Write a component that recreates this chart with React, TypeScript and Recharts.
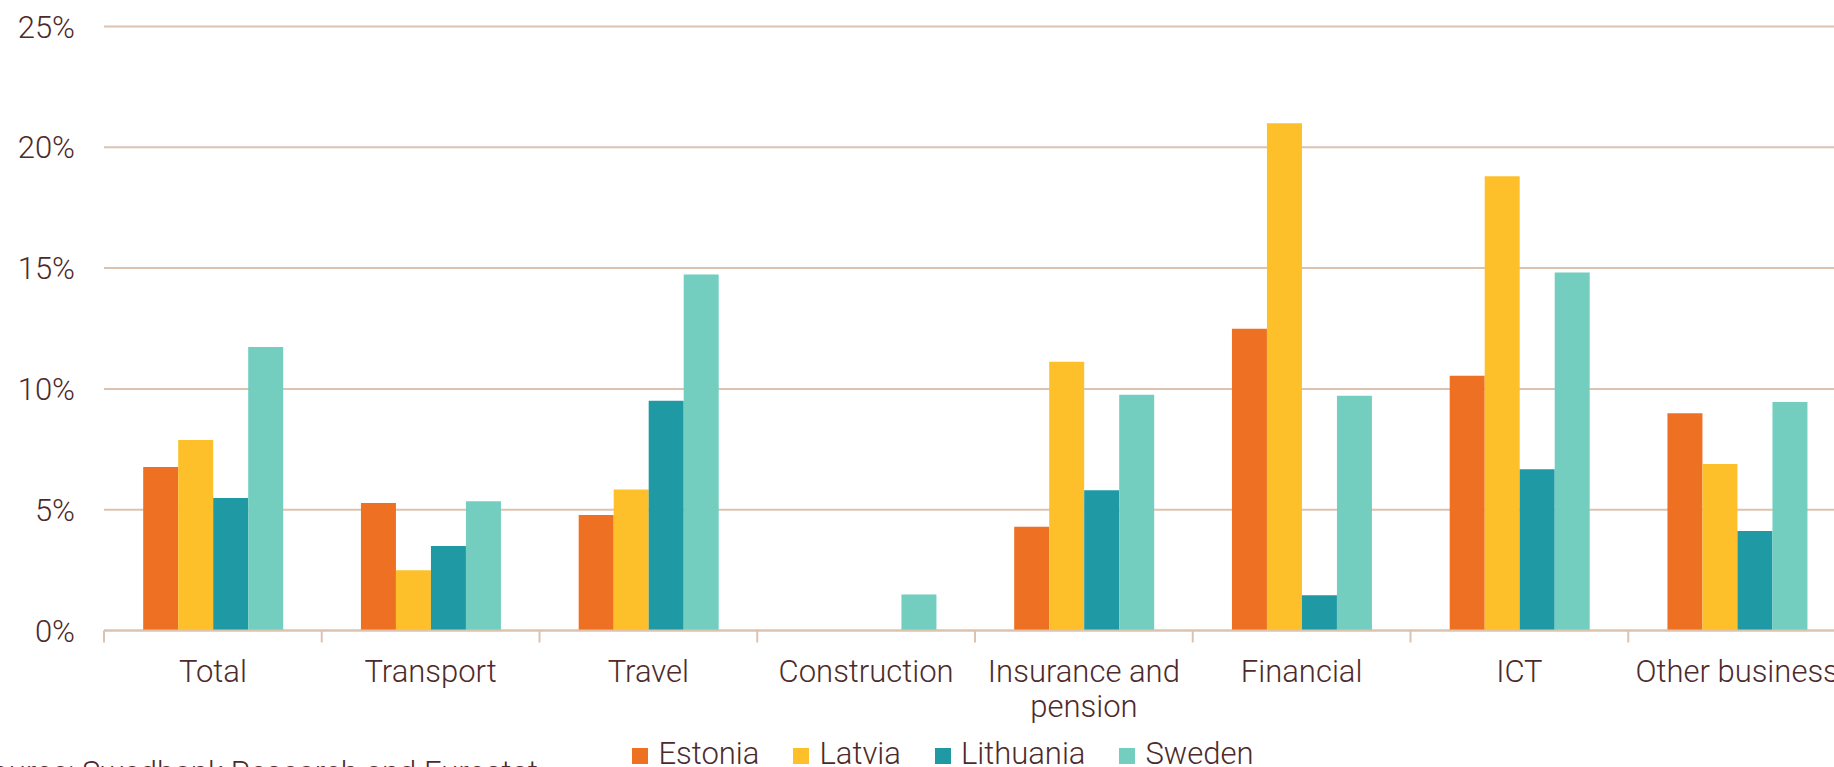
import React from 'react';
import { BarChart, Bar, XAxis, YAxis, CartesianGrid, Legend } from 'recharts';

// Share of services exports by category, per country (%)
const categories = [
  'Total',
  'Transport',
  'Travel',
  'Construction',
  'Insurance and\npension',
  'Financial',
  'ICT',
  'Other business',
];
const estonia = [6.77, 5.28, 4.78, null, 4.29, 12.49, 10.54, 8.99];
const latvia = [7.88, 2.49, 5.84, null, 11.12, 21.0, 18.8, 6.89];
const lithuania = [5.48, 3.5, 9.51, null, 5.8, 1.46, 6.67, 4.12];
const sweden = [11.73, 5.35, 14.73, 1.49, 9.76, 9.72, 14.82, 9.46];
const yTicks = [0, 5, 10, 15, 20, 25];
const seriesNames = ['Estonia', 'Latvia', 'Lithuania', 'Sweden'];
const seriesColors = ['#ee7023', '#fdc02b', '#1f9aa5', '#73cec0'];

const seriesValues = [estonia, latvia, lithuania, sweden];
const data = categories.map((name, i) => {
  const row: Record<string, any> = { name };
  seriesNames.forEach((s, k) => {
    row[s] = seriesValues[k][i];
  });
  return row;
});

const FONT = 'Roboto, "Open Sans", sans-serif';
const TEXT = '#4e2a2b';
const GRID = '#dcc3b0';

const CategoryTick = (props: any) => {
  const { x, y, payload } = props;
  const half = payload && payload.offset ? payload.offset : 108.85;
  const lines = String(payload.value).split('\n');
  return (
    <g>
      <line x1={x - half} x2={x - half} y1={y} y2={y + 12} stroke={GRID} strokeWidth={2} />
      <text
        x={x}
        y={y + 51}
        textAnchor="middle"
        fill={TEXT}
        fontSize={31}
        fontFamily={FONT}
        fontWeight={300}
      >
        {lines.map((l, i) => (
          <tspan key={i} x={x} dy={i === 0 ? 0 : 35}>
            {l}
          </tspan>
        ))}
      </text>
    </g>
  );
};

const LegendRow = (props: any) => {
  const items = props.payload || [];
  return (
    <div
      style={{
        display: 'flex',
        justifyContent: 'center',
        gap: 34,
        fontFamily: FONT,
        fontSize: 31,
        fontWeight: 300,
        color: TEXT,
        lineHeight: '36px',
      }}
    >
      {items.map((it: any) => (
        <div key={it.value} style={{ display: 'flex', alignItems: 'baseline' }}>
          <span
            style={{
              display: 'inline-block',
              width: 16,
              height: 16,
              background: it.color,
              marginRight: 10,
            }}
          />
          {it.value}
        </div>
      ))}
    </div>
  );
};

export default function App() {
  return (
    <div
      style={{
        position: 'absolute',
        left: 0,
        top: 0,
        width: 1834,
        height: 767,
        overflow: 'hidden',
        background: '#ffffff',
      }}
    >
      <BarChart
        width={1846}
        height={767}
        data={data}
        margin={{ top: 26.5, right: 0, bottom: 0, left: 0 }}
        barCategoryGap="18%"
        barGap={0}
      >
        <CartesianGrid vertical={false} stroke={GRID} strokeWidth={2} />
        <XAxis
          dataKey="name"
          height={136.5}
          interval={0}
          tickLine={false}
          tickSize={0}
          tickMargin={0}
          axisLine={{ stroke: GRID, strokeWidth: 2 }}
          tick={<CategoryTick />}
        />
        <YAxis
          width={104}
          domain={[0, 25]}
          ticks={yTicks}
          tickFormatter={(v: number) => `${v}%`}
          axisLine={false}
          tickLine={false}
          tickSize={0}
          tickMargin={29}
          tick={{ fill: TEXT, fontSize: 31, fontFamily: FONT, fontWeight: 300 }}
        />
        <Legend
          layout="vertical"
          align="center"
          verticalAlign="middle"
          content={<LegendRow />}
          wrapperStyle={{ left: 0, top: 736, width: 1886, bottom: 'auto' }}
        />
        {seriesNames.map((s, k) => (
          <Bar key={s} dataKey={s} fill={seriesColors[k]} isAnimationActive={false} />
        ))}
      </BarChart>
      <div
        style={{
          position: 'absolute',
          left: -27,
          top: 755,
          fontFamily: FONT,
          fontSize: 31,
          fontWeight: 300,
          color: TEXT,
          lineHeight: '36px',
          whiteSpace: 'nowrap',
        }}
      >
        Source: Swedbank Research and Eurostat
      </div>
    </div>
  );
}
